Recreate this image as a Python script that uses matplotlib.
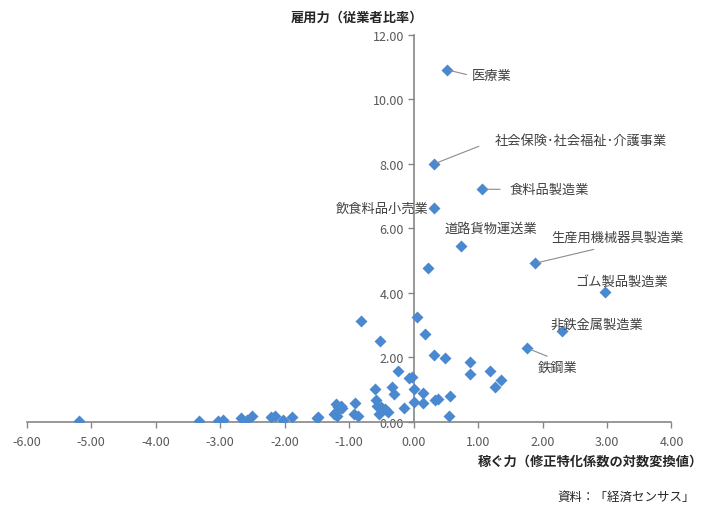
import matplotlib.pyplot as plt
import numpy as np

plt.rcParams["font.family"] = ["Noto Sans CJK JP", "DejaVu Sans"]

# labelled industries
label_names = [
    "医療業",
    "社会保険･社会福祉･介護事業",
    "食料品製造業",
    "飲食料品小売業",
    "道路貨物運送業",
    "生産用機械器具製造業",
    "ゴム製品製造業",
    "非鉄金属製造業",
    "鉄鋼業",
]
label_x = [0.52, 0.31, 1.06, 0.31, 0.73, 1.89, 2.97, 2.30, 1.76]
label_y = [10.91, 7.99, 7.21, 6.62, 5.46, 4.92, 4.03, 2.82, 2.29]

# other industries (unlabelled)
other_x = [
    0.22, -0.81, 0.06, 0.17, -0.52, 0.31, 0.49, 0.88, 0.87, 1.19,
    1.36, 1.27, -0.24, -0.07, -0.03, -0.33, -0.60, -0.31, 0.01, 0.14,
    -0.58, -0.57, -0.50, -0.44, -0.39, -0.54, -0.91, -0.92, -0.86, -1.20,
    -1.17, -1.13, -1.11, -1.24, -1.18, -1.21, -0.15, 0.00, 0.14, 0.34,
    0.38, 0.57, 0.55, -1.50, -1.48, -1.89, -2.03, -2.21, -2.15, -2.51,
    -2.59, -2.68, -2.96, -3.03, -3.32, -5.19,
]
other_y = [
    4.76, 3.13, 3.26, 2.73, 2.50, 2.07, 1.99, 1.86, 1.50, 1.57,
    1.30, 1.09, 1.57, 1.36, 1.40, 1.09, 1.01, 0.87, 1.01, 0.89,
    0.67, 0.51, 0.46, 0.40, 0.30, 0.25, 0.59, 0.25, 0.18, 0.56,
    0.45, 0.51, 0.43, 0.25, 0.20, 0.30, 0.42, 0.61, 0.59, 0.68,
    0.71, 0.81, 0.20, 0.12, 0.15, 0.16, 0.07, 0.16, 0.20, 0.18,
    0.07, 0.12, 0.07, 0.04, 0.04, 0.04,
]

x_ticks = np.arange(-6, 4.01, 1.0)
y_ticks = np.arange(0, 12.01, 2.0)

# label placement: (dx, dy in pixels, ha, leader?, relpos, shrinkA)
label_style = [
    (25, -6, "left", True, (0, 0.5), 2),
    (61, 24, "left", True, (0, 0.5), 10),
    (28, 0, "left", True, (0, 0.5), 5),
    (-5, 0, "right", False, None, 0),
    (30, 17, "center", False, None, 0),
    (16, 26, "left", True, (0.5, 0), 9),
    (16, 11, "center", False, None, 0),
    (35, 7, "center", False, None, 0),
    (31, -19, "center", True, (0.5, 1), 3),
]

BLUE = "#4a89d0"
AXIS = "#868686"

fig = plt.figure(figsize=(7.06, 5.06), dpi=100)
ax = fig.add_axes([0.0378, 0.164, 0.9133, 0.7655])

ax.plot(other_x, other_y, "D", color=BLUE, ms=6, mec="none", zorder=3)
ax.plot(label_x, label_y, "D", color=BLUE, ms=6, mec="none", zorder=3)

for name, x, y, st in zip(label_names, label_x, label_y, label_style):
    dx, dy, ha, leader, relpos, shr = st
    props = None
    if leader:
        props = dict(arrowstyle="-", color="#8c8c8c", lw=0.8,
                     relpos=relpos, shrinkA=shr, shrinkB=2,
                     connectionstyle="arc3,rad=0.0")
    ax.annotate(name, (x, y), xytext=(dx, dy), textcoords="offset pixels",
                ha=ha, va="center", fontsize=9.5, color="#404040",
                arrowprops=props, zorder=4)

ax.set_xlim(-6, 4)
ax.set_ylim(0, 12)
ax.set_xticks(x_ticks)
ax.set_yticks(y_ticks)
ax.set_xticklabels([f"{v:.2f}" for v in x_ticks])
ax.set_yticklabels([f"{v:.2f}" for v in y_ticks])

ax.spines["left"].set_position(("data", 0))
ax.spines["bottom"].set_position(("data", 0))
ax.spines["right"].set_visible(False)
ax.spines["top"].set_visible(False)
for side in ("left", "bottom"):
    ax.spines[side].set_color(AXIS)
    ax.spines[side].set_linewidth(1.2)
ax.tick_params(axis="both", colors=AXIS, labelcolor="#595959",
               labelsize=9, length=4, width=1.0)
ax.tick_params(axis="x", pad=5)
ax.tick_params(axis="y", pad=3)
ax.spines["left"].set_zorder(1)

fig.text(0.505, 0.965, "雇用力（従業者比率）", ha="center", va="center",
         fontsize=9.5, fontweight="bold", color="#262626")
fig.text(0.996, 0.087, "稼ぐ力（修正特化係数の対数変換値）", ha="right",
         va="center", fontsize=9.5, fontweight="bold", color="#262626")
fig.text(0.985, 0.018, "資料：「経済センサス」", ha="right", va="center",
         fontsize=9, color="#262626")

fig.savefig("out.png", dpi=100)
